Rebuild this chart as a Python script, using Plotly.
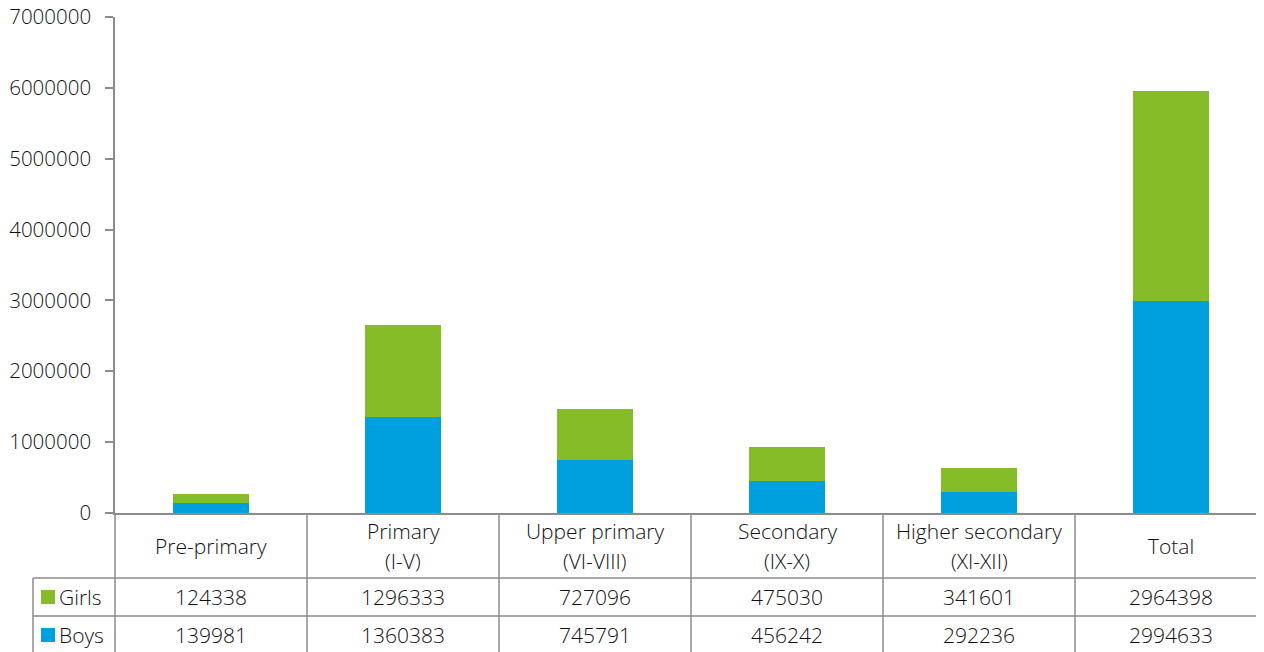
import plotly.graph_objects as go

categories = ["Pre-primary", "Primary<br>(I-V)", "Upper primary<br>(VI-VIII)",
              "Secondary<br>(IX-X)", "Higher secondary<br>(XI-XII)", "Total"]
girls = [124338, 1296333, 727096, 475030, 341601, 2964398]
boys = [139981, 1360383, 745791, 456242, 292236, 2994633]
series_names = ["Girls", "Boys"]
y_ticks = [0, 1000000, 2000000, 3000000, 4000000, 5000000, 6000000, 7000000]

GREEN = "#85BC27"
BLUE = "#00A0DE"
LINE = "#8C8C8C"
TXT = "#111111"
FONT = "Open Sans"
FS = 21
FW = 300

OFF = 8  # page body margin
PAGE_W, PAGE_H = 1264, 652
W, H = PAGE_W - OFF, PAGE_H - OFF
ML, MR, MT, MB = 115 - OFF, 0, 17 - OFF, 139
PW = W - ML - MR
PH = H - MT - MB
X_HI = -0.5 + PW / 192.0  # category pitch of the reference


def px_x(px):
    return (px - OFF - ML) / PW


def px_y(py):
    return (H - MB - (py - OFF)) / PH


xs = list(range(len(categories)))

fig = go.Figure()
fig.add_trace(go.Bar(x=xs, y=boys, name="Boys", marker=dict(color=BLUE, line=dict(width=0)),
                     width=0.4, showlegend=False))
fig.add_trace(go.Bar(x=xs, y=girls, name="Girls", marker=dict(color=GREEN, line=dict(width=0)),
                     width=0.4, showlegend=False))

font = dict(family=FONT, size=FS, color=TXT, weight=FW)
tick_font = dict(family=FONT, size=20.5, color=TXT, weight=FW)

shapes = []
ann = []
for ry in [578, 616]:
    shapes.append(dict(type="line", xref="paper", yref="paper", x0=px_x(33), x1=1,
                       y0=px_y(ry), y1=px_y(ry), line=dict(color=LINE, width=1.5)))
shapes.append(dict(type="line", xref="paper", yref="paper", x0=0, x1=0,
                   y0=0, y1=px_y(PAGE_H + 2), line=dict(color=LINE, width=1.5)))
shapes.append(dict(type="line", xref="paper", yref="paper", x0=px_x(33), x1=px_x(33),
                   y0=px_y(578), y1=px_y(PAGE_H + 2), line=dict(color=LINE, width=1.5)))
for i in range(1, len(categories)):
    shapes.append(dict(type="line", xref="x", yref="paper", x0=i - 0.5, x1=i - 0.5,
                       y0=0, y1=px_y(PAGE_H + 2), line=dict(color=LINE, width=1.5)))

for i, c in enumerate(categories):
    lines = c.split("<br>")
    ys = [546] if len(lines) == 1 else [531, 561]
    for ln, cy in zip(lines, ys):
        ann.append(dict(x=i, xref="x", y=px_y(cy), yref="paper", text=ln, showarrow=False,
                        font=font, xanchor="center", yanchor="middle"))
for vals, cy in [(girls, 597), (boys, 635)]:
    for i, v in enumerate(vals):
        ann.append(dict(x=i, xref="x", y=px_y(cy), yref="paper", text=str(v), showarrow=False,
                        font=font, xanchor="center", yanchor="middle"))
for (name, color, cy) in [("Girls", GREEN, 597), ("Boys", BLUE, 635)]:
    shapes.append(dict(type="rect", xref="paper", yref="paper", x0=px_x(41), x1=px_x(55),
                       y0=px_y(cy + 7), y1=px_y(cy - 7), fillcolor=color, line=dict(width=0)))
    ann.append(dict(x=px_x(57), xref="paper", y=px_y(cy), yref="paper", text=name,
                    showarrow=False, font=font, xanchor="left", yanchor="middle"))

fig.update_layout(
    width=W, height=H,
    margin=dict(l=ML, r=MR, t=MT, b=MB, pad=0, autoexpand=False),
    barmode="stack",
    plot_bgcolor="white", paper_bgcolor="white",
    shapes=shapes, annotations=ann,
    xaxis=dict(range=[-0.5, X_HI], showticklabels=False, ticks="", automargin=False,
               showline=True, linecolor=LINE, linewidth=1.5, showgrid=False, zeroline=False),
    yaxis=dict(range=[0, 7000000], tickvals=y_ticks, ticktext=[str(v) for v in y_ticks],
               ticks="outside", ticklen=8, tickcolor=LINE, tickwidth=1.5, automargin=False,
               showline=True, linecolor=LINE, linewidth=1.5, showgrid=False, zeroline=False,
               tickfont=tick_font, ticklabelstandoff=10, ticklabeloverflow="allow"),
    font=font,
)

fig.write_html("out.html")
